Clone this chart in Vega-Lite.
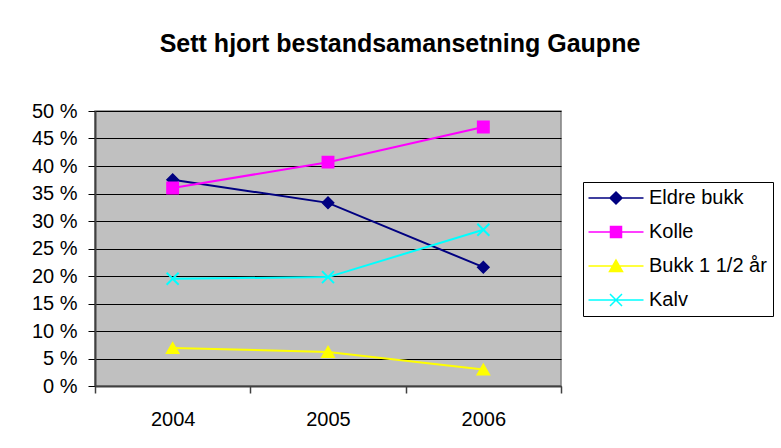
{
  "$schema": "https://vega.github.io/schema/vega-lite/v6.json",
  "autosize": "none",
  "padding": {"left": 95, "top": 111, "right": 220, "bottom": 62},
  "width": 466,
  "height": 275,
  "background": "white",
  "title": {
    "text": "Sett hjort bestandsamansetning Gaupne",
    "font": "Liberation Sans",
    "fontSize": 25,
    "fontWeight": "bold",
    "color": "black",
    "anchor": "middle",
    "dx": 72,
    "offset": 44
  },
  "data": {
    "values": [
      {"year": "2004", "series": "Eldre bukk", "value": 37.5},
      {"year": "2005", "series": "Eldre bukk", "value": 33.3},
      {"year": "2006", "series": "Eldre bukk", "value": 21.6},
      {"year": "2004", "series": "Kolle", "value": 36.0},
      {"year": "2005", "series": "Kolle", "value": 40.7},
      {"year": "2006", "series": "Kolle", "value": 47.1},
      {"year": "2004", "series": "Bukk 1 1/2 år", "value": 6.9},
      {"year": "2005", "series": "Bukk 1 1/2 år", "value": 6.2},
      {"year": "2006", "series": "Bukk 1 1/2 år", "value": 3.0},
      {"year": "2004", "series": "Kalv", "value": 19.5},
      {"year": "2005", "series": "Kalv", "value": 19.8},
      {"year": "2006", "series": "Kalv", "value": 28.4}
    ]
  },
  "encoding": {
    "x": {
      "field": "year",
      "type": "ordinal",
      "scale": {"type": "band", "paddingInner": 0, "paddingOuter": 0},
      "axis": {
        "title": null,
        "labelAngle": 0,
        "tickBand": "extent",
        "grid": false,
        "tickSize": 7,
        "tickColor": "#404040",
        "tickWidth": 1.5,
        "domainColor": "#404040",
        "domainWidth": 2,
        "labelPadding": 16,
        "labelFont": "Liberation Sans",
        "labelFontSize": 20,
        "labelColor": "black"
      }
    },
    "y": {
      "field": "value",
      "type": "quantitative",
      "scale": {"domain": [0, 50], "nice": false},
      "axis": {
        "title": null,
        "values": [0, 5, 10, 15, 20, 25, 30, 35, 40, 45, 50],
        "labelExpr": "datum.value + ' %'",
        "grid": true,
        "gridColor": "black",
        "gridWidth": 1,
        "gridOpacity": 1,
        "tickSize": 7,
        "tickColor": "black",
        "domainColor": "#404040",
        "domainWidth": 2,
        "labelPadding": 11,
        "labelFont": "Liberation Sans",
        "labelFontSize": 20,
        "labelColor": "black"
      }
    },
    "color": {
      "field": "series",
      "type": "nominal",
      "scale": {
        "domain": ["Eldre bukk", "Kolle", "Bukk 1 1/2 år", "Kalv"],
        "range": ["#000080", "#FF00FF", "#FFFF00", "#00FFFF"]
      },
      "legend": {
        "orient": "none",
        "legendX": 488,
        "legendY": 71,
        "title": null,
        "strokeColor": "black",
        "fillColor": "white",
        "padding": 6,
        "symbolSize": 100,
        "symbolOffset": 17,
        "labelOffset": 23,
        "symbolStrokeWidth": 1.5,
        "rowPadding": 14,
        "labelFont": "Liberation Sans",
        "labelFontSize": 20,
        "labelColor": "black",
        "symbolOpacity": 1
      }
    }
  },
  "layer": [
    {
      "mark": {"type": "line", "strokeWidth": 2},
      "encoding": {}
    },
    {
      "transform": [{"filter": "datum.series === 'Eldre bukk'"}],
      "mark": {"type": "point", "filled": true, "size": 130, "opacity": 1, "shape": "diamond", "stroke": "#000080", "strokeWidth": 1.5}
    },
    {
      "transform": [{"filter": "datum.series === 'Kolle'"}],
      "mark": {"type": "point", "filled": true, "size": 130, "opacity": 1, "shape": "square", "stroke": "#FF00FF", "strokeWidth": 1.5}
    },
    {
      "transform": [{"filter": "datum.series === 'Bukk 1 1/2 år'"}],
      "mark": {"type": "point", "filled": true, "size": 150, "opacity": 1, "shape": "triangle-up", "stroke": "#FFFF00", "strokeWidth": 1.5}
    },
    {
      "transform": [{"filter": "datum.series === 'Kalv'"}],
      "mark": {"type": "point", "filled": false, "size": 144, "opacity": 1, "strokeWidth": 2, "shape": "M-1,-1L1,1M-1,1L1,-1"}
    },
    {
      "transform": [{"filter": "datum.series === 'none'"}],
      "mark": {"type": "point", "filled": true, "opacity": 1, "strokeWidth": 1.5},
      "encoding": {
        "shape": {
          "field": "series", "type": "nominal",
          "scale": {
            "domain": ["Eldre bukk", "Kolle", "Bukk 1 1/2 år", "Kalv"],
            "range": ["M-5.5,0H5.5M0,-1.2L1.2,0L0,1.2L-1.2,0Z", "M-5.5,0H5.5M-1.1,-1.1H1.1V1.1H-1.1Z", "M-5.5,0H5.5M0,-1.2L1.3,1.1H-1.3Z", "M-5.5,0H5.5M-1.2,-1.2L1.2,1.2M-1.2,1.2L1.2,-1.2"]
          },
          "legend": null
        },
        "stroke": {
          "field": "series", "type": "nominal",
          "scale": {"domain": ["Eldre bukk", "Kolle", "Bukk 1 1/2 år", "Kalv"], "range": ["#000080", "#FF00FF", "#FFFF00", "#00FFFF"]},
          "legend": null
        }
      }
    }
  ],
  "config": {
    "view": {"fill": "#C0C0C0", "stroke": "#808080", "strokeWidth": 1.5}
  }
}
